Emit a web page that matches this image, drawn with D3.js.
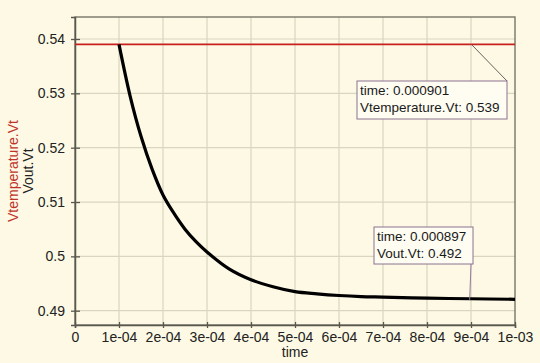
<!DOCTYPE html>
<html>
<head>
<meta charset="utf-8">
<script src="https://cdn.jsdelivr.net/npm/d3@7"></script>
<style>
  html, body { margin: 0; padding: 0; background: #fdf9e4; }
  svg { display: block; font-family: Arial, "Liberation Sans", sans-serif; }
</style>
</head>
<body>
<div id="chart"></div>
<script>
// --- Data ---
const timeTicks = [0, 1e-4, 2e-4, 3e-4, 4e-4, 5e-4, 6e-4, 7e-4, 8e-4, 9e-4, 1e-3];
const timeTickLabels = ['0', '1e-04', '2e-04', '3e-04', '4e-04', '5e-04', '6e-04', '7e-04', '8e-04', '9e-04', '1e-03'];
const voltTicks = [0.49, 0.5, 0.51, 0.52, 0.53, 0.54];
const voltTickLabels = ['0.49', '0.5', '0.51', '0.52', '0.53', '0.54'];

const tempTime = [0, 1e-3];
const tempValue = [0.539, 0.539];

const voutTime = [1.0e-4, 1.25e-4, 1.5e-4, 1.75e-4, 2.0e-4, 2.25e-4, 2.5e-4, 2.75e-4, 3.0e-4, 3.5e-4,
                  4.0e-4, 4.5e-4, 5.0e-4, 5.5e-4, 6.0e-4, 6.5e-4, 7.0e-4, 8.0e-4, 9.0e-4, 1.0e-3];
const voutValue = [0.5390, 0.5296, 0.5221, 0.5161, 0.5113, 0.5079, 0.5050, 0.5027, 0.5008, 0.4977,
                   0.4957, 0.4944, 0.4935, 0.4931, 0.4928, 0.4926, 0.4925, 0.4923, 0.4922, 0.4921];

const markers = [
  { time: 0.000901, value: 0.539, lines: ['time: 0.000901', 'Vtemperature.Vt: 0.539'] },
  { time: 0.000897, value: 0.492, lines: ['time: 0.000897', 'Vout.Vt: 0.492'] }
];

const W = 540, H = 363;
const margin = { top: 17, right: 25, bottom: 38, left: 75 };
const width = W - margin.left - margin.right;
const height = H - margin.top - margin.bottom;

const svg = d3.select('#chart').append('svg')
  .attr('width', W).attr('height', H);

svg.append('rect').attr('width', W).attr('height', H).attr('fill', '#fdf9e4');

const g = svg.append('g').attr('transform', `translate(${margin.left},${margin.top})`);

const x = d3.scaleLinear().domain([0, 1e-3]).range([0, width]);
const y = d3.scaleLinear().domain([0.48737, 0.54405]).range([height, 0]);

// --- Grid ---
g.append('g').selectAll('line').data(timeTicks.slice(1, -1)).join('line')
  .attr('x1', d => x(d)).attr('x2', d => x(d))
  .attr('y1', 0).attr('y2', height)
  .attr('stroke', '#d9d5bf').attr('stroke-width', 1.2);
g.append('g').selectAll('line').data(voltTicks).join('line')
  .attr('x1', 0).attr('x2', width)
  .attr('y1', d => y(d)).attr('y2', d => y(d))
  .attr('stroke', '#d9d5bf').attr('stroke-width', 1.2);

// --- Frame ---
g.append('rect').attr('width', width).attr('height', height)
  .attr('fill', 'none').attr('stroke', '#6e6c60').attr('stroke-width', 1.3);

// --- Axes ---
const xAxis = g.append('g').attr('transform', `translate(0,${height})`)
  .call(d3.axisBottom(x).tickValues(timeTicks)
    .tickFormat((d, i) => timeTickLabels[i]).tickSize(3).tickPadding(4));
const yAxis = g.append('g')
  .call(d3.axisLeft(y).tickValues(voltTicks)
    .tickFormat((d, i) => voltTickLabels[i]).tickSize(4).tickPadding(6));

[xAxis, yAxis].forEach(a => {
  a.select('.domain').attr('stroke', '#5a584e').attr('stroke-width', 1.5);
  a.selectAll('.tick line').attr('stroke', '#5a584e').attr('stroke-width', 1.3);
  a.selectAll('.tick text').attr('fill', '#222').style('font-size', '14px')
    .style('font-family', 'Arial, "Liberation Sans", sans-serif');
});
xAxis.selectAll('.tick line').attr('y1', -3);
yAxis.selectAll('.tick line').attr('x2', 5).attr('x1', -4);

// --- Axis titles ---
svg.append('text')
  .attr('x', margin.left + width / 2).attr('y', 357)
  .attr('text-anchor', 'middle').style('font-size', '14px').attr('fill', '#222')
  .text('time');
svg.append('text')
  .attr('transform', `translate(18,${margin.top + height / 2}) rotate(-90)`)
  .attr('text-anchor', 'middle').style('font-size', '14px').attr('fill', '#c0332b')
  .text('Vtemperature.Vt');
svg.append('text')
  .attr('transform', `translate(33,${margin.top + height / 2}) rotate(-90)`)
  .attr('text-anchor', 'middle').style('font-size', '14px').attr('fill', '#222')
  .text('Vout.Vt');

// --- Series ---
const line = d3.line().x(d => x(d[0])).y(d => y(d[1])).curve(d3.curveCatmullRom.alpha(0.5));

g.append('path')
  .datum(d3.zip(tempTime, tempValue))
  .attr('fill', 'none').attr('stroke', '#c8201c').attr('stroke-width', 1.8)
  .attr('d', line);

g.append('path')
  .datum(d3.zip(voutTime, voutValue))
  .attr('fill', 'none').attr('stroke', '#000').attr('stroke-width', 3.2)
  .attr('stroke-linejoin', 'round')
  .attr('d', line);

// --- Marker annotations ---
const boxes = [
  { x: 357, y: 81, w: 150, h: 38 },
  { x: 374, y: 227, w: 99, h: 37 }
];
const leaders = [
  { fromX: 507, fromY: 81 },
  { fromX: 471, fromY: 264 }
];

markers.forEach((m, i) => {
  const b = boxes[i];
  const px = margin.left + x(m.time), py = margin.top + y(m.value);
  svg.append('line')
    .attr('x1', leaders[i].fromX).attr('y1', leaders[i].fromY)
    .attr('x2', px).attr('y2', py)
    .attr('stroke', i === 0 ? '#6a6060' : '#9a7aa0').attr('stroke-width', 1);
  svg.append('rect')
    .attr('x', b.x).attr('y', b.y).attr('width', b.w).attr('height', b.h)
    .attr('fill', '#fffdf2').attr('stroke', '#8a7290').attr('stroke-width', 1);
  m.lines.forEach((t, j) => {
    svg.append('text')
      .attr('x', b.x + 3).attr('y', b.y + 14 + j * 17)
      .style('font-size', '13.5px').attr('fill', '#1a1a1a')
      .text(t);
  });
});
</script>
</body>
</html>
